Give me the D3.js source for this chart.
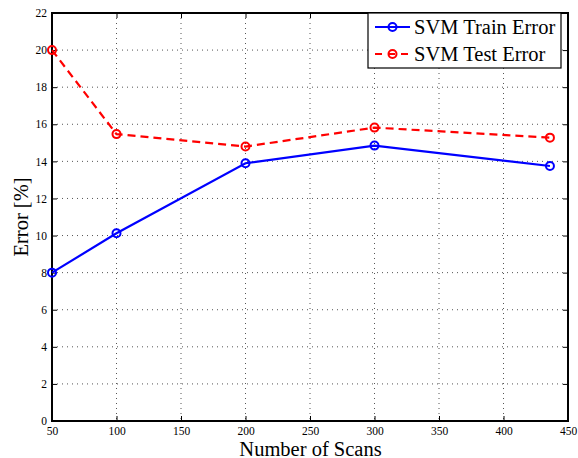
<!DOCTYPE html>
<html><head><meta charset="utf-8">
<script src="https://cdn.jsdelivr.net/npm/d3@7"></script>
<style>body{margin:0;background:#fff}svg{display:block}</style>
</head><body>
<svg id="c" width="578" height="458"></svg>
<script>
const scans = [50, 100, 200, 300, 436];
const trainError = [8.0, 10.12, 13.9, 14.85, 13.75];
const testError = [20.0, 15.47, 14.8, 15.82, 15.28];
const xTicks = [50, 100, 150, 200, 250, 300, 350, 400, 450];
const yTicks = [0, 2, 4, 6, 8, 10, 12, 14, 16, 18, 20, 22];
const seriesNames = ["SVM Train Error", "SVM Test Error"];

const svg = d3.select("#c");
const L = 52, R = 568, T = 13, B = 421;
const x = d3.scaleLinear().domain([50, 450]).range([L, R]);
const y = d3.scaleLinear().domain([0, 22]).range([B, T]);
const font = "Liberation Serif";

// grid
const g = svg.append("g");
g.selectAll(".gx").data(xTicks.slice(1, -1)).join("line")
  .attr("x1", d => x(d)).attr("x2", d => x(d)).attr("y1", T).attr("y2", B)
  .attr("stroke", "#555").attr("stroke-width", 1).attr("stroke-dasharray", "1,4");
g.selectAll(".gy").data(yTicks.slice(1, -1)).join("line")
  .attr("y1", d => y(d)).attr("y2", d => y(d)).attr("x1", L).attr("x2", R)
  .attr("stroke", "#555").attr("stroke-width", 1).attr("stroke-dasharray", "1,4");

// axes
const ax = svg.append("g").attr("transform", `translate(0,${B})`)
  .call(d3.axisBottom(x).tickValues(xTicks).tickSize(-5).tickPadding(6).tickFormat(d3.format("d")));
const ay = svg.append("g").attr("transform", `translate(${L},0)`)
  .call(d3.axisLeft(y).tickValues(yTicks).tickSize(-5).tickPadding(5).tickFormat(d3.format("d")));
const axT = svg.append("g").attr("transform", `translate(0,${T})`)
  .call(d3.axisTop(x).tickValues(xTicks).tickSize(-5).tickFormat(""));
const ayR = svg.append("g").attr("transform", `translate(${R},0)`)
  .call(d3.axisRight(y).tickValues(yTicks).tickSize(-5).tickFormat(""));
[ax, ay, axT, ayR].forEach(a => {
  a.attr("font-family", font).attr("font-size", 11.5);
  a.select(".domain").remove();
  a.selectAll("line").attr("stroke", "#000").attr("stroke-width", 1);
  a.selectAll("text").attr("fill", "#000");
});
svg.append("rect").attr("x", L).attr("y", T).attr("width", R - L).attr("height", B - T)
  .attr("fill", "none").attr("stroke", "#000").attr("stroke-width", 2);

// lines
const line = d3.line().x(d => x(d[0])).y(d => y(d[1]));
const series = [
  {vals: trainError, color: "#0000ff", dash: null},
  {vals: testError, color: "#ff0000", dash: "8,5"}
];
series.forEach(s => {
  const pts = scans.map((v, i) => [v, s.vals[i]]);
  svg.append("path").datum(pts).attr("d", line).attr("fill", "none")
    .attr("stroke", s.color).attr("stroke-width", 2.2).attr("stroke-dasharray", s.dash);
  svg.selectAll(null).data(pts).join("circle")
    .attr("cx", d => x(d[0])).attr("cy", d => y(d[1])).attr("r", 4)
    .attr("fill", "none").attr("stroke", s.color).attr("stroke-width", 2);
});

// axis labels
svg.append("text").attr("x", (L + R) / 2 + 0.5).attr("y", 455.5).attr("text-anchor", "middle")
  .attr("font-family", font).attr("font-size", 20.5).text("Number of Scans");
svg.append("text").attr("transform", `translate(28,${(T + B) / 2}) rotate(-90)`).attr("text-anchor", "middle")
  .attr("font-family", font).attr("font-size", 20.5).text("Error [%]");

// legend
const lg = svg.append("g");
lg.append("rect").attr("x", 368).attr("y", 13).attr("width", 193).attr("height", 55)
  .attr("fill", "#fff").attr("stroke", "#000").attr("stroke-width", 1.2);
series.forEach((s, i) => {
  const yy = 27 + i * 27;
  lg.append("line").attr("x1", 375).attr("x2", 410).attr("y1", yy).attr("y2", yy)
    .attr("stroke", s.color).attr("stroke-width", 2.2).attr("stroke-dasharray", s.dash ? "7,6" : null);
  lg.append("circle").attr("cx", 392.5).attr("cy", yy).attr("r", 4)
    .attr("fill", "none").attr("stroke", s.color).attr("stroke-width", 2);
  lg.append("text").attr("x", 414).attr("y", yy + 7).attr("font-family", font).attr("font-size", 20.5)
    .text(seriesNames[i]);
});
</script>
</body></html>
